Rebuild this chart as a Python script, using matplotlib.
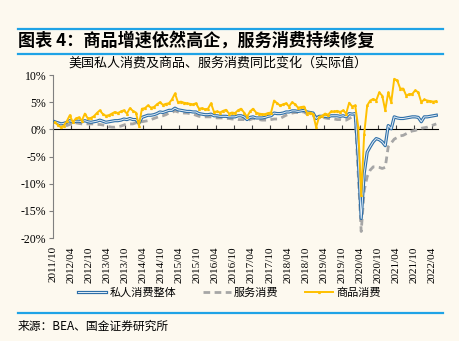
import matplotlib

matplotlib.use("Agg")
import matplotlib.pyplot as plt  # noqa: E402
import matplotlib.patheffects as pe  # noqa: E402
from matplotlib.lines import Line2D  # noqa: E402

plt.rcParams["font.family"] = ["Noto Sans CJK SC", "DejaVu Sans"]

# 月度数据：2011/10 — 2022/05，同比 %
START_YEAR, START_MONTH = 2011, 10

goods = [
    1.3, 0.8, 0.4, 0.7, 1.5, 2.6, 1.3, 2.0, 2.2, 1.6, 2.9, 2.0,
    2.1, 2.4, 3.0, 3.5, 2.8, 2.5, 2.6, 2.9, 3.2, 3.0, 3.3, 3.5,
    2.9, 3.9, 3.4, 3.1, 0.7, 3.8, 3.9, 4.4, 4.0, 4.1, 4.6, 5.0,
    4.5, 4.7, 4.8, 5.5, 6.6, 5.0, 5.1, 4.9, 4.8, 4.7, 4.6, 4.8,
    3.8, 3.9, 3.7, 3.8, 4.8, 3.2, 3.3, 3.1, 3.4, 3.6, 2.9, 3.1,
    3.0, 3.5, 3.8, 3.1, 2.3, 3.3, 3.8, 3.1, 2.9, 2.8, 2.8, 3.0,
    3.1, 5.3, 4.8, 4.4, 4.6, 4.8, 4.2, 5.0, 4.6, 4.0, 4.1, 4.2,
    2.9, 3.1, 2.8, 0.4, 2.3, 2.5, 2.9, 2.7, 3.3, 3.3, 3.4, 3.2,
    3.5, 2.9, 4.9, 4.2, 4.4, 0.5, -12.1, -0.8, 4.4, 5.3, 5.6, 5.3,
    6.8, 6.2, 3.5, 6.8, 5.0, 9.3, 9.0, 7.5, 7.5, 6.2, 6.5, 6.5,
    7.2, 6.8, 5.0, 5.5, 5.3, 5.2, 5.1, 5.2,
]

total = [
    1.4, 1.2, 1.0, 1.1, 1.3, 1.6, 1.3, 1.5, 1.5, 1.4, 1.6, 1.4,
    1.3, 1.4, 1.5, 1.7, 1.5, 1.3, 1.4, 1.5, 1.6, 1.6, 1.7, 1.9,
    1.8, 2.0, 1.8, 1.8, 1.1, 2.2, 2.4, 2.6, 2.6, 2.7, 2.9, 3.2,
    3.1, 3.3, 3.5, 3.5, 3.9, 3.6, 3.5, 3.4, 3.3, 3.3, 3.2, 3.2,
    2.9, 2.8, 2.7, 2.7, 2.8, 2.5, 2.5, 2.4, 2.4, 2.4, 2.3, 2.3,
    2.3, 2.5, 2.5, 2.3, 1.8, 2.2, 2.3, 2.1, 2.1, 2.1, 2.2, 2.4,
    2.5, 3.0, 2.9, 2.9, 3.0, 3.2, 3.2, 3.4, 3.4, 3.3, 3.4, 3.5,
    3.2, 3.1, 3.0, 2.0, 2.4, 2.4, 2.4, 2.3, 2.5, 2.5, 2.5, 2.4,
    2.5, 2.3, 2.9, 2.8, 2.9, -5.0, -16.4, -8.1, -4.2, -3.2, -2.3, -1.7,
    -1.9, -2.3, -3.0, 0.7, 0.1, 2.3, 2.1, 2.0, 2.0, 2.1, 2.2, 2.3,
    2.3, 2.2, 1.4, 2.3, 2.3, 2.4, 2.5, 2.6,
]

services = [
    1.3, 1.2, 1.1, 0.8, 0.7, 0.9, 1.3, 1.2, 1.1, 1.0, 1.0, 1.0,
    1.0, 1.0, 0.9, 0.9, 0.8, 0.7, 0.5, 0.4, 0.4, 0.5, 0.6, 0.8,
    1.0, 1.0, 1.0, 1.2, 1.3, 1.4, 1.5, 1.6, 1.8, 2.0, 2.2, 2.4,
    2.5, 2.7, 3.0, 3.1, 3.4, 3.2, 3.1, 3.0, 3.0, 2.9, 2.8, 2.6,
    2.4, 2.3, 2.3, 2.3, 2.3, 2.2, 2.1, 2.1, 2.1, 2.0, 2.0, 1.9,
    1.9, 1.8, 1.8, 1.8, 1.6, 1.8, 2.0, 1.9, 1.8, 1.7, 1.7, 1.7,
    1.8, 1.9, 1.9, 2.0, 2.3, 2.6, 2.8, 3.0, 3.1, 3.1, 3.2, 3.2,
    2.8, 2.6, 2.5, 2.3, 2.2, 2.2, 2.1, 2.0, 2.0, 1.9, 1.8, 1.8,
    1.7, 1.7, 2.0, 2.3, 2.6, -8.0, -18.8, -11.2, -8.7, -7.5, -6.9, -6.9,
    -7.0, -7.2, -7.0, -3.2, -2.5, -1.8, -1.5, -1.2, -1.1, -0.8, -0.5, -0.3,
    -0.2, 0.0, 0.2, 0.3, 0.4, 0.6, 0.8, 1.0,
]

y_ticks = [10, 5, 0, -5, -10, -15, -20]
tick_step = 6  # 每 6 个月一个刻度

BG = "#FDF9EF"
BLUE_RULE = "#1FA3E6"


def month_label(i):
    m = START_MONTH - 1 + i
    return f"{START_YEAR + m // 12}/{m % 12 + 1:02d}"


n = len(goods)
x = [i + 0.5 for i in range(n)]

fig = plt.figure(figsize=(4.59, 3.41), dpi=100, facecolor=BG)
ax = fig.add_axes([0.1161, 0.302, 0.8377, 0.478])
ax.set_facecolor(BG)

ax.plot(x, services, color="#A6A6A6", lw=2.0, ls=(0, (2.4, 1.6)),
        label="服务消费", zorder=2)
ax.plot(x, total, color="#E4EEF7", lw=0.7, label="私人消费整体", zorder=3,
        path_effects=[pe.Stroke(linewidth=2.3, foreground="#2E6FA8"), pe.Normal()])
ax.plot(x, goods, color="#FFC000", lw=1.4, marker="^", ms=1.3,
        label="商品消费", zorder=4)

ax.set_xlim(0, n)
ax.set_ylim(-20, 10)

serif = "Liberation Serif"
ax.set_yticks(y_ticks)
ax.set_yticklabels([f"{v}%" for v in y_ticks], fontfamily=serif, fontsize=8.5)
ax.tick_params(axis="y", direction="out", length=3, width=0.8, color="#808080", pad=2)

xt = list(range(0, n, tick_step))
ax.set_xticks(xt)
ax.set_xticklabels([month_label(i) for i in xt], rotation=90,
                   fontfamily=serif, fontsize=8)
ax.tick_params(axis="x", length=0, pad=6)

for s in ("top", "right", "bottom"):
    ax.spines[s].set_visible(False)
ax.spines["left"].set_color("#808080")
ax.spines["left"].set_linewidth(0.8)

# 零轴及刻度
zero_ax = ax.secondary_xaxis(2 / 3)
zero_ax.set_xticks(xt)
zero_ax.set_xticklabels([])
zero_ax.tick_params(direction="out", length=3, width=0.8, color="#404040")
zero_ax.spines["bottom"].set_color("#404040")
zero_ax.spines["bottom"].set_linewidth(0.9)

ax.text(0.04, 1.035, "美国私人消费及商品、服务消费同比变化（实际值）",
        transform=ax.transAxes, fontsize=9.4, ha="left", va="bottom")

fig.legend(loc="center", bbox_to_anchor=(0.50, 0.141), ncol=3, frameon=False,
           fontsize=8, handlelength=2.5, handletextpad=0.3, columnspacing=2.4,
           handles=[ax.lines[1], ax.lines[0], ax.lines[2]])

for yy in (1 - 29 / 341, 1 - 54 / 341, 1 - 313 / 341):
    fig.add_artist(Line2D([18 / 459, 443 / 459], [yy, yy], transform=fig.transFigure,
                          color=BLUE_RULE, lw=1.6))

fig.text(18 / 459, 1 - 41 / 341, "图表 4：商品增速依然高企，服务消费持续修复",
         fontsize=12.3, fontweight="bold", ha="left", va="center")
fig.text(18 / 459, 1 - 326 / 341, "来源：BEA、国金证券研究所",
         fontsize=8.5, ha="left", va="center")

fig.savefig("out.png", dpi=100, facecolor=BG)
